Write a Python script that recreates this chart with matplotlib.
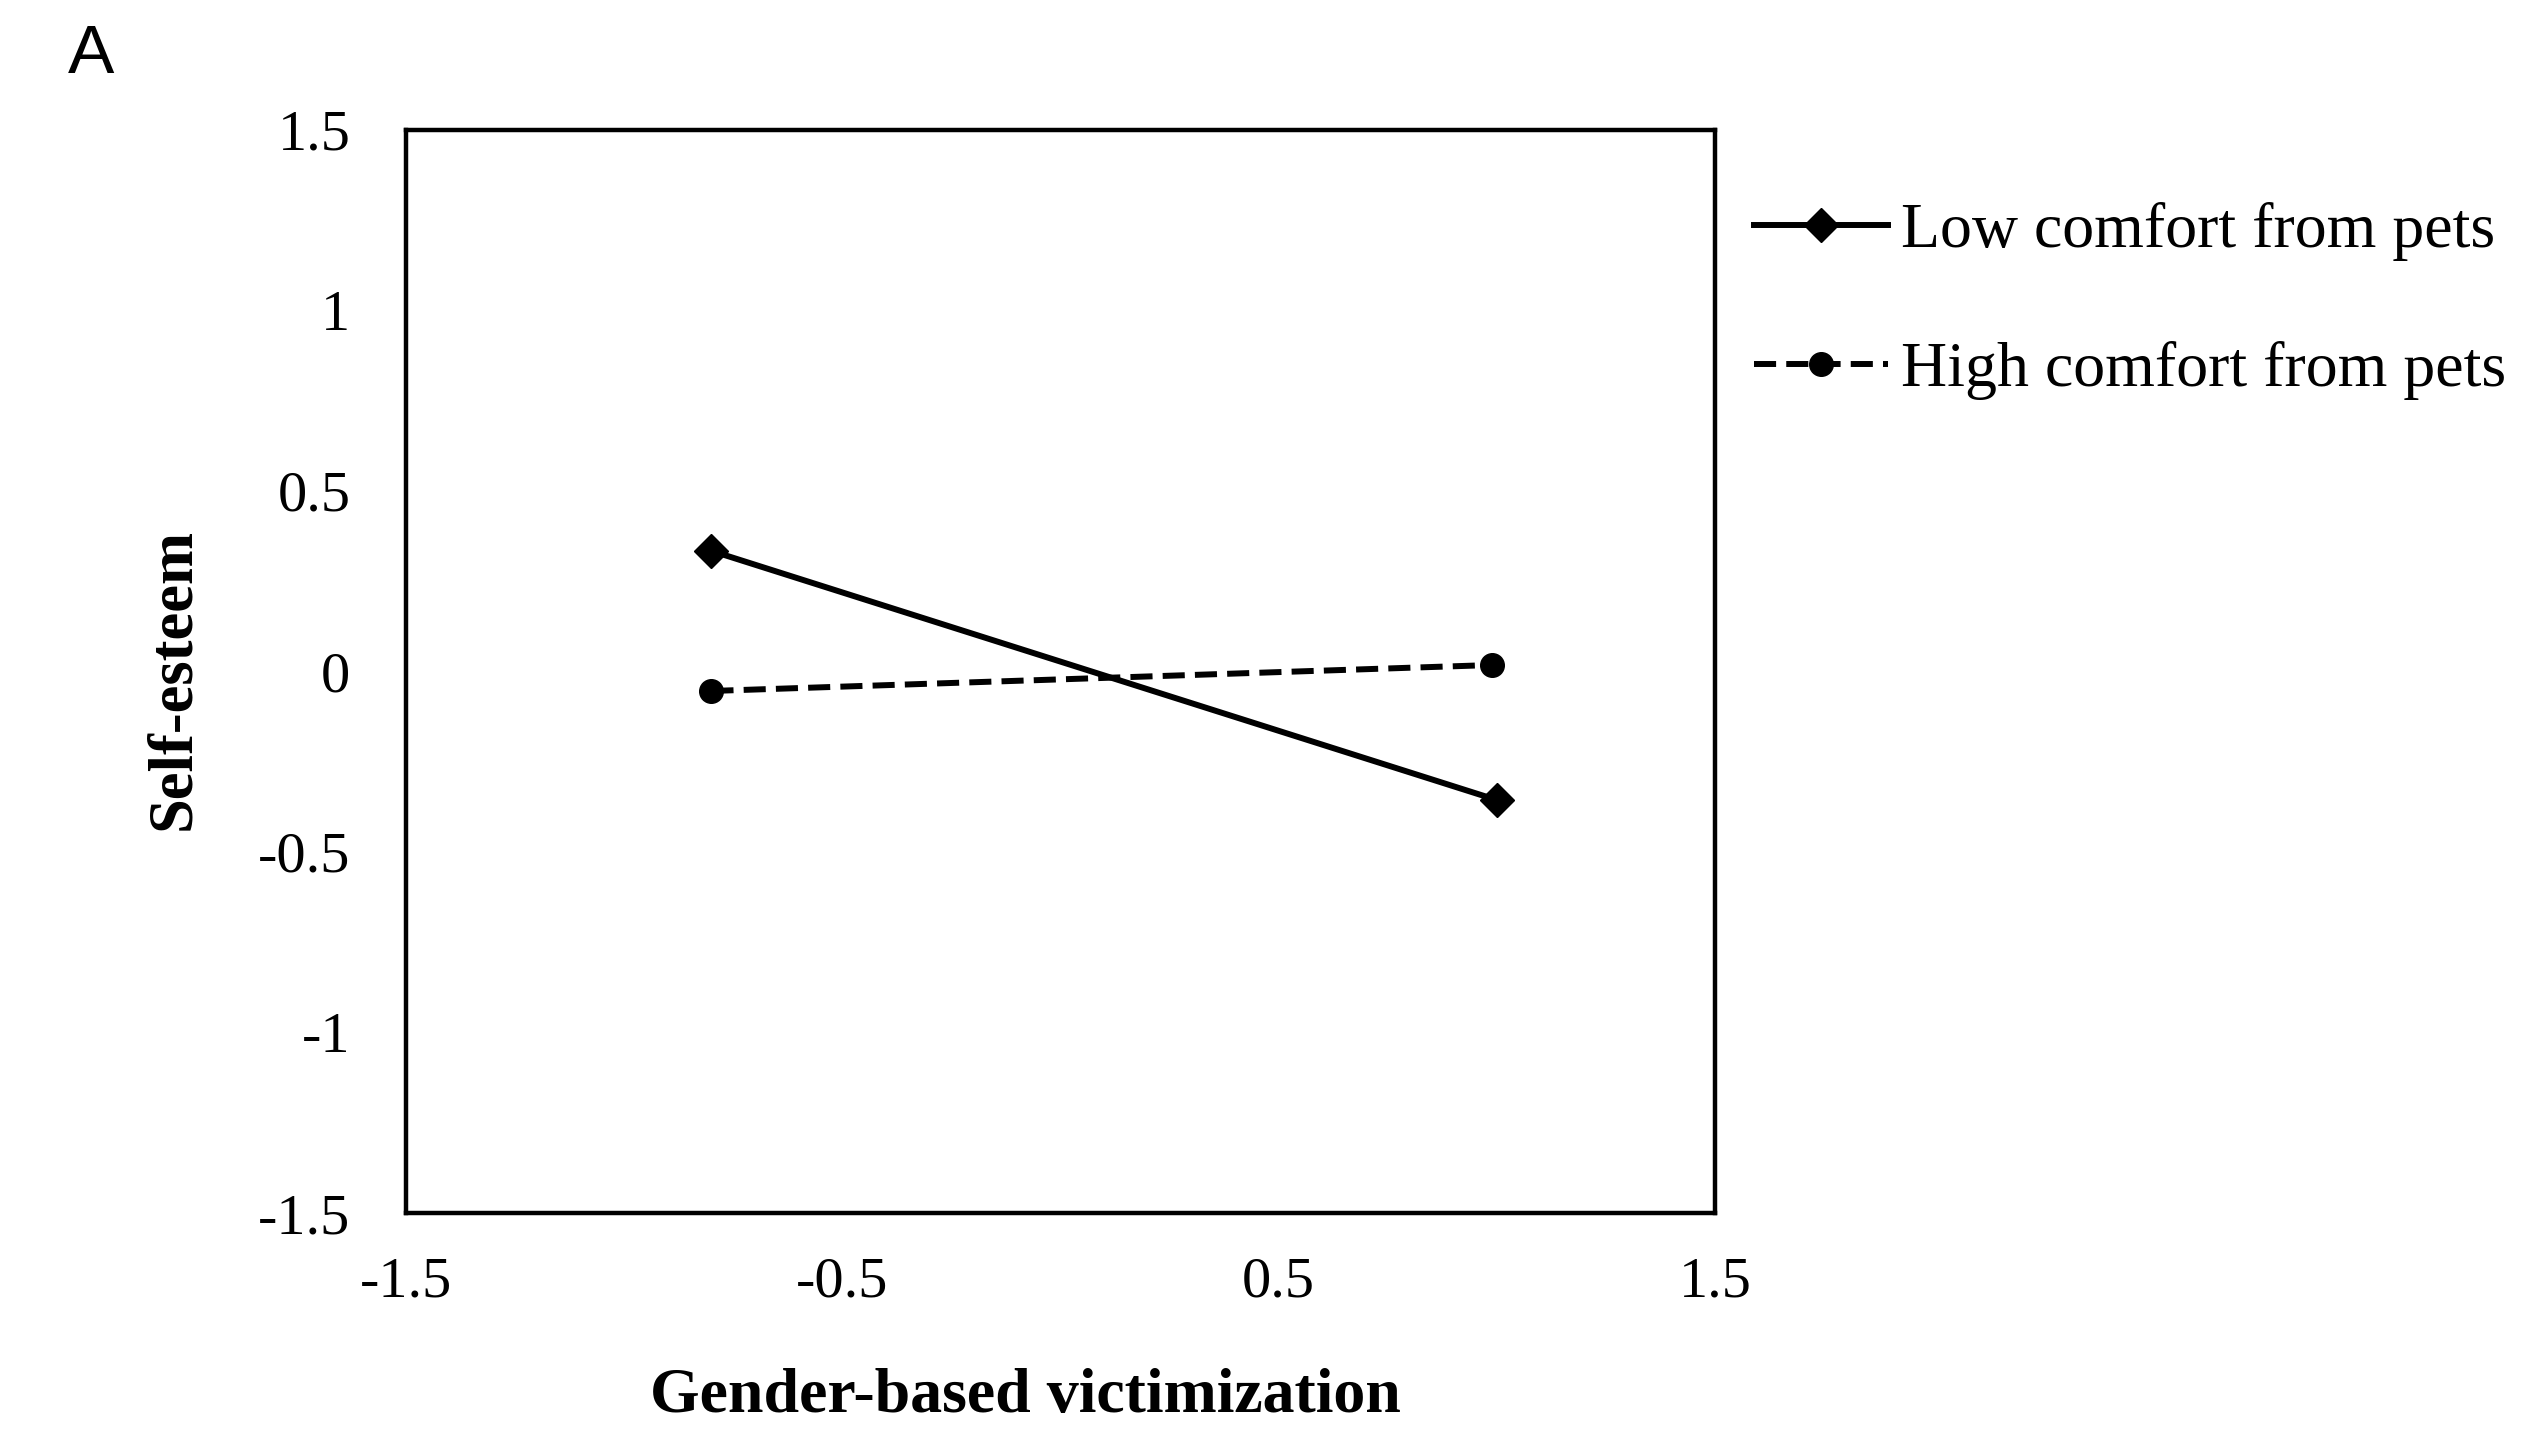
import matplotlib
matplotlib.use("Agg")
import matplotlib.pyplot as plt

x_levels = [-0.8, 1.0]
low_comfort = [0.334, -0.356]
high_x = [-0.8, 0.99]
high_comfort = [-0.054, 0.018]
series_labels = ["Low comfort from pets", "High comfort from pets"]
xticks = [-1.5, -0.5, 0.5, 1.5]
xtick_labels = ["-1.5", "-0.5", "0.5", "1.5"]
yticks = [-1.5, -1, -0.5, 0, 0.5, 1, 1.5]
ytick_labels = ["-1.5", "-1", "-0.5", "0", "0.5", "1", "1.5"]

serif = ["Liberation Serif", "DejaVu Serif"]
fig = plt.figure(figsize=(25.34, 14.52), dpi=100)
ax = fig.add_axes([0.16022, 0.1646, 0.51657, 0.7459])

ax.plot(x_levels, low_comfort, color="black", lw=4.3, marker="D", ms=17,
        label=series_labels[0])
ax.plot(high_x, high_comfort, color="black", lw=4.3, marker="o", ms=17,
        dashes=(3.7, 1.7), label=series_labels[1])

ax.set_xlim(-1.5, 1.5)
ax.set_ylim(-1.5, 1.5)
ax.set_xticks(xticks)
ax.set_xticklabels(xtick_labels, family=serif, fontsize=42)
ax.set_yticks(yticks)
ax.set_yticklabels(ytick_labels, family=serif, fontsize=42)
ax.tick_params(length=0)
ax.tick_params(axis="x", pad=31)
ax.tick_params(axis="y", pad=40)
for s in ax.spines.values():
    s.set_linewidth(3.2)
    s.set_color("black")

ax.set_xlabel("Gender-based victimization", family=serif, fontsize=46,
              fontweight="bold", va="center", ha="center")
ax.xaxis.set_label_coords(0.473, -0.170)
ax.set_ylabel("Self-esteem", family=serif, fontsize=45, fontweight="bold",
              va="center", ha="center")
ax.yaxis.set_label_coords(-0.177, 0.493)

leg = fig.legend(loc="center left", bbox_to_anchor=(0.6922, 0.7925),
                 frameon=False, prop={"family": serif, "size": 46},
                 handlelength=2.1, handletextpad=0.2, labelspacing=1.25,
                 borderpad=0, borderaxespad=0)

fig.text(0.0268, 0.9497, "A", family=["Liberation Sans", "DejaVu Sans"],
         fontsize=50, ha="left", va="baseline")

fig.savefig("out.png", dpi=100)
